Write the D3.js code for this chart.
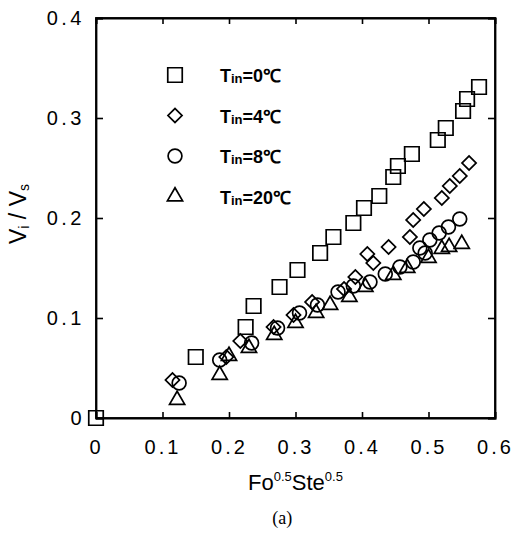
<!DOCTYPE html>
<html>
<head>
<meta charset="utf-8">
<script src="https://cdn.jsdelivr.net/npm/d3@7"></script>
<style>
  body { margin: 0; background: #fff; }
  svg { display: block; }
  text { font-family: "Liberation Sans", Arial, sans-serif; fill: #000; }
</style>
</head>
<body>
<div id="chart"></div>
<script>
// data: [Fo^0.5 Ste^0.5, Vi/Vs]
const tin0 = [[0, 0], [0.15, 0.061], [0.225, 0.091], [0.237, 0.112], [0.276, 0.131], [0.303, 0.148],
  [0.337, 0.165], [0.357, 0.181], [0.387, 0.195], [0.403, 0.21], [0.426, 0.222], [0.447, 0.241],
  [0.454, 0.252], [0.475, 0.264], [0.514, 0.278], [0.526, 0.29], [0.552, 0.307], [0.558, 0.319], [0.576, 0.331]];
const tin4 = [[0.115, 0.038], [0.196, 0.061], [0.217, 0.077], [0.267, 0.091], [0.297, 0.103], [0.325, 0.116],
  [0.373, 0.129], [0.39, 0.141], [0.408, 0.164], [0.417, 0.155], [0.44, 0.171], [0.472, 0.181],
  [0.477, 0.198], [0.493, 0.209], [0.52, 0.22], [0.532, 0.232], [0.547, 0.242], [0.561, 0.255]];
const tin8 = [[0.125, 0.035], [0.186, 0.058], [0.234, 0.075], [0.273, 0.09], [0.306, 0.105], [0.333, 0.113],
  [0.364, 0.126], [0.387, 0.132], [0.412, 0.136], [0.435, 0.144], [0.457, 0.151], [0.477, 0.156],
  [0.487, 0.17], [0.495, 0.165], [0.502, 0.178], [0.516, 0.185], [0.53, 0.191], [0.547, 0.199]];
const tin20 = [[0.122, 0.018], [0.186, 0.043], [0.2, 0.062], [0.23, 0.07], [0.268, 0.083], [0.3, 0.095],
  [0.331, 0.105], [0.352, 0.113], [0.381, 0.121], [0.405, 0.131], [0.447, 0.143], [0.468, 0.15],
  [0.5, 0.16], [0.52, 0.169], [0.531, 0.171], [0.55, 0.174]];

const legendLabels = ["0℃", "4℃", "8℃", "20℃"];
const xTicks = [0, 0.1, 0.2, 0.3, 0.4, 0.5, 0.6];
const yTicks = [0, 0.1, 0.2, 0.3, 0.4];

const margin = {top: 18, right: 19, bottom: 117, left: 96},
  width = 514 - margin.left - margin.right,
  height = 535 - margin.top - margin.bottom;

const svg = d3.select("#chart")
  .append("svg")
    .attr("width", 514)
    .attr("height", 535)
  .append("g")
    .attr("transform", `translate(${margin.left},${margin.top})`);

const x = d3.scaleLinear().domain([0, 0.6]).range([0, width]);
const y = d3.scaleLinear().domain([0, 0.4]).range([height, 0]);

const fmt = d => d === 0 ? "0" : d3.format(".1f")(d);

// axes with inward ticks
const xAxis = svg.append("g")
  .attr("transform", `translate(0,${height})`)
  .call(d3.axisBottom(x).tickValues(xTicks).tickSize(-6).tickPadding(22).tickFormat(fmt));
xAxis.selectAll("text").attr("font-size", 20).attr("letter-spacing", "3px");

const yAxis = svg.append("g")
  .call(d3.axisLeft(y).tickValues(yTicks).tickSize(-7).tickPadding(11).tickFormat(fmt));
yAxis.selectAll("text").attr("font-size", 20).attr("letter-spacing", "3.5px");

svg.append("g")
  .call(d3.axisTop(x).tickValues(xTicks).tickSize(-6).tickFormat(""));
svg.append("g")
  .attr("transform", `translate(${width},0)`)
  .call(d3.axisRight(y).tickValues(yTicks).tickSize(-7).tickFormat(""));

svg.selectAll(".domain").attr("stroke-width", 1.8);
svg.selectAll(".tick line").attr("stroke-width", 1.6);

// frame
svg.append("rect")
  .attr("width", width).attr("height", height)
  .attr("fill", "none").attr("stroke", "#000").attr("stroke-width", 1.8);

// markers
const series = [
  {data: tin0, sym: d3.symbolSquare, size: 210, rot: 0},
  {data: tin4, sym: d3.symbolSquare, size: 100, rot: 45},
  {data: tin8, sym: d3.symbolCircle, size: 150, rot: 0},
  {data: tin20, sym: d3.symbolTriangle, size: 100, rot: 0}
];

series.forEach(function(s) {
  svg.append("g")
    .selectAll("path")
    .data(s.data)
    .join("path")
      .attr("d", d3.symbol().type(s.sym).size(s.size))
      .attr("transform", d => `translate(${x(d[0])},${y(d[1])}) rotate(${s.rot})`)
      .attr("fill", "none")
      .attr("stroke", "#000")
      .attr("stroke-width", 1.7);
});

// legend
const legend = svg.append("g").attr("transform", "translate(79,57)");
series.forEach(function(s, i) {
  const g = legend.append("g").attr("transform", `translate(0,${i * 40.5})`);
  g.append("path")
    .attr("d", d3.symbol().type(s.sym).size(s.size))
    .attr("transform", `rotate(${s.rot})`)
    .attr("fill", "none").attr("stroke", "#000").attr("stroke-width", 1.7);
  const t = g.append("text").attr("x", 45).attr("y", 7)
    .attr("font-size", 18).attr("font-weight", "bold");
  t.append("tspan").text("T");
  t.append("tspan").attr("font-size", 13).attr("dy", 1).text("in");
  t.append("tspan").attr("dy", -1).text("=" + legendLabels[i]);
});

// axis titles
const yl = svg.append("text")
  .attr("transform", `translate(${-70},${height / 2 - 4}) rotate(-90)`)
  .attr("text-anchor", "middle")
  .attr("font-size", 23);
yl.append("tspan").text("V");
yl.append("tspan").attr("font-size", 14).attr("dy", 3).text("i");
yl.append("tspan").attr("dy", -3).text(" / V");
yl.append("tspan").attr("font-size", 14).attr("dy", 3).text("s");

const xl = svg.append("text")
  .attr("x", x(0.3)).attr("y", height + 72)
  .attr("text-anchor", "middle")
  .attr("font-size", 22);
xl.append("tspan").text("Fo");
xl.append("tspan").attr("font-size", 13).attr("dy", -9).text("0.5");
xl.append("tspan").attr("dy", 9).text("Ste");
xl.append("tspan").attr("font-size", 13).attr("dy", -9).text("0.5");

svg.append("text")
  .attr("x", x(0.28)).attr("y", height + 106)
  .attr("text-anchor", "middle")
  .style("font-family", "'Liberation Serif', 'Times New Roman', serif")
  .attr("font-size", 18)
  .text("(a)");
</script>
</body>
</html>
